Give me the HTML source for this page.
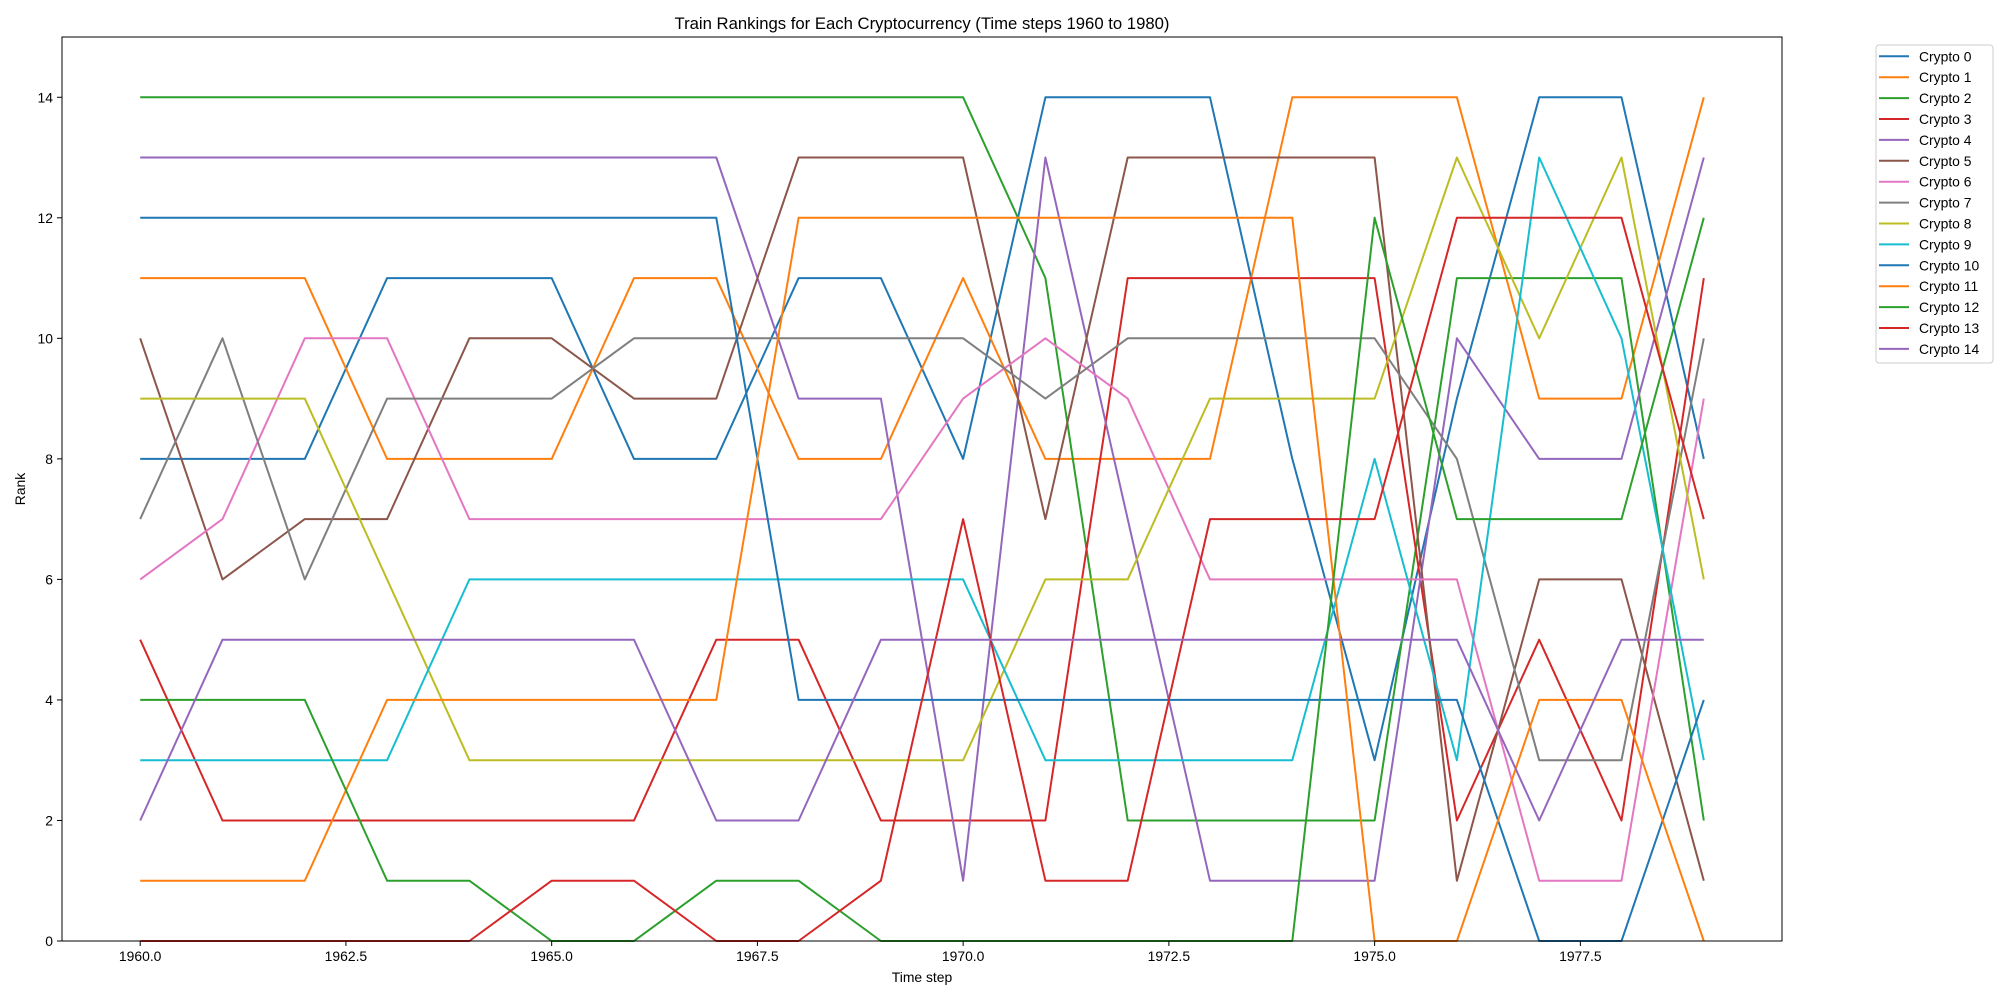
<!DOCTYPE html>
<html><head><meta charset="utf-8"><style>
body{margin:0;background:#fff;}
svg{display:block;font-family:"Liberation Sans","DejaVu Sans",sans-serif;}
</style></head><body>
<svg id="chart" width="2000" height="1000" viewBox="0 0 2000 1000" xmlns="http://www.w3.org/2000/svg">
<rect width="2000" height="1000" fill="#fff"/>
<text x="922" y="29" text-anchor="middle" font-size="16.7" fill="#000">Train Rankings for Each Cryptocurrency (Time steps 1960 to 1980)</text>
<g id="grid"></g>
<g id="series"></g>
<rect x="62" y="37" width="1720" height="904" fill="none" stroke="#000" stroke-width="1"/>
<g id="axes"></g>
<text x="922" y="982" text-anchor="middle" font-size="13.9">Time step</text>
<text x="0" y="0" transform="translate(25,489) rotate(-90)" text-anchor="middle" font-size="13.9">Rank</text>
<g id="legend"></g>
</svg>
<script>
const years = [1960,1961,1962,1963,1964,1965,1966,1967,1968,1969,1970,1971,1972,1973,1974,1975,1976,1977,1978,1979];
const seriesNames = ["Crypto 0","Crypto 1","Crypto 2","Crypto 3","Crypto 4","Crypto 5","Crypto 6","Crypto 7","Crypto 8","Crypto 9","Crypto 10","Crypto 11","Crypto 12","Crypto 13","Crypto 14"];
const seriesColors = ["#1f77b4","#ff7f0e","#2ca02c","#d62728","#9467bd","#8c564b","#e377c2","#7f7f7f","#bcbd22","#17becf","#1f77b4","#ff7f0e","#2ca02c","#d62728","#9467bd"];
const crypto0 = [8,8,8,11,11,11,8,8,11,11,8,14,14,14,8,3,9,14,14,8];
const crypto1 = [11,11,11,8,8,8,11,11,8,8,11,8,8,8,14,14,14,9,9,14];
const crypto2 = [14,14,14,14,14,14,14,14,14,14,14,11,2,2,2,2,11,11,11,2];
const crypto3 = [5,2,2,2,2,2,2,5,5,2,2,2,11,11,11,11,2,5,2,11];
const crypto4 = [13,13,13,13,13,13,13,13,9,9,1,13,7,1,1,1,10,8,8,13];
const crypto5 = [10,6,7,7,10,10,9,9,13,13,13,7,13,13,13,13,1,6,6,1];
const crypto6 = [6,7,10,10,7,7,7,7,7,7,9,10,9,6,6,6,6,1,1,9];
const crypto7 = [7,10,6,9,9,9,10,10,10,10,10,9,10,10,10,10,8,3,3,10];
const crypto8 = [9,9,9,6,3,3,3,3,3,3,3,6,6,9,9,9,13,10,13,6];
const crypto9 = [3,3,3,3,6,6,6,6,6,6,6,3,3,3,3,8,3,13,10,3];
const crypto10 = [12,12,12,12,12,12,12,12,4,4,4,4,4,4,4,4,4,0,0,4];
const crypto11 = [1,1,1,4,4,4,4,4,12,12,12,12,12,12,12,0,0,4,4,0];
const crypto12 = [4,4,4,1,1,0,0,1,1,0,0,0,0,0,0,12,7,7,7,12];
const crypto13 = [0,0,0,0,0,1,1,0,0,1,7,1,1,7,7,7,12,12,12,7];
const crypto14 = [2,5,5,5,5,5,5,2,2,5,5,5,5,5,5,5,5,2,5,5];
const xTicks = [1960,1962.5,1965,1967.5,1970,1972.5,1975,1977.5];
const xTickLabels = ["1960.0","1962.5","1965.0","1967.5","1970.0","1972.5","1975.0","1977.5"];
const yTicks = [0,2,4,6,8,10,12,14];
const yTickLabels = ["0","2","4","6","8","10","12","14"];
const allSeries = [crypto0,crypto1,crypto2,crypto3,crypto4,crypto5,crypto6,crypto7,crypto8,crypto9,crypto10,crypto11,crypto12,crypto13,crypto14];

const NS = "http://www.w3.org/2000/svg";
const X0 = 62, X1 = 1782, Y0 = 941, Y1 = 37;
const xMin = 1959.05, xMax = 1979.95, yMin = 0, yMax = 15;
function xScale(v){ return X0 + (v - xMin) / (xMax - xMin) * (X1 - X0); }
function yScale(v){ return Y0 - (v - yMin) / (yMax - yMin) * (Y0 - Y1); }
function mk(tag, attrs){ const e = document.createElementNS(NS, tag); for (const k in attrs) e.setAttribute(k, attrs[k]); return e; }

const axes = document.getElementById('axes');
xTicks.forEach((t, i) => {
  const x = xScale(t);
  const tk = mk('line', {x1:x, x2:x, y1:Y0, y2:Y0+5, stroke:'#000', 'stroke-width':1});
  
  
  axes.appendChild(tk);
  const lb = mk('text', {x:x, y:Y0+20, 'text-anchor':'middle', 'font-size':13.9});
  lb.textContent = xTickLabels[i];
  
  
  axes.appendChild(lb);
});
yTicks.forEach((t, i) => {
  const y = yScale(t);
  const tk = mk('line', {x1:X0-5, x2:X0, y1:y, y2:y, stroke:'#000', 'stroke-width':1});
  
  
  axes.appendChild(tk);
  const lb = mk('text', {x:X0-9, y:y+5, 'text-anchor':'end', 'font-size':13.9});
  lb.textContent = yTickLabels[i];
  
  
  axes.appendChild(lb);
});

const sg = document.getElementById('series');
allSeries.forEach((vals, s) => {
  const pts = vals.map((v, i) => xScale(years[i]).toFixed(1) + ',' + yScale(v).toFixed(1)).join(' ');
  const pl = mk('polyline', {points:pts, fill:'none', stroke:seriesColors[s], 'stroke-width':2, 'stroke-linejoin':'round'});
  
  
  sg.appendChild(pl);
});

const lg = document.getElementById('legend');
const box = mk('rect', {x:1876, y:45, width:117, height:318, rx:3, fill:'#fff', 'fill-opacity':0.8, stroke:'#ccc', 'stroke-width':1});


lg.appendChild(box);
seriesNames.forEach((n, i) => {
  const y = 56.3 + i * 20.9;
  const ln = mk('line', {x1:1879, x2:1909, y1:y, y2:y, stroke:seriesColors[i], 'stroke-width':2});
  
  
  lg.appendChild(ln);
  const tx = mk('text', {x:1919, y:y+5, 'font-size':13.9});
  tx.textContent = n;
  
  
  lg.appendChild(tx);
});
</script>
</body></html>
